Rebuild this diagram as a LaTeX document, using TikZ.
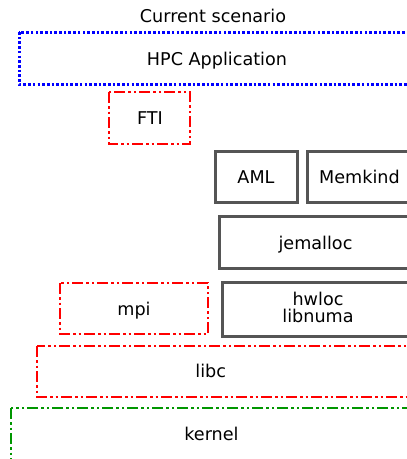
\documentclass[tikz,border=0pt]{standalone}
\usepackage{fontspec}
\setmainfont{DejaVu Sans}
\definecolor{layerred}{RGB}{255,0,0}
\definecolor{layerblue}{RGB}{0,0,255}
\definecolor{layergreen}{RGB}{0,150,0}
\definecolor{layergray}{RGB}{85,85,85}
\tikzset{
  lbl/.style={inner sep=0pt, anchor=base, font=\fontsize{17.6}{19}\selectfont},
  appbox/.style={draw=layerblue, line width=3pt, dash pattern=on 2.6pt off 2.1pt},
  optbox/.style={draw=layerred, line width=2.7pt, dash pattern=on 11pt off 3pt on 2.5pt off 3pt on 2.5pt off 3pt},
  sysbox/.style={draw=layergreen, line width=2.7pt, dash pattern=on 11pt off 3pt on 2.5pt off 3pt on 2.5pt off 3pt},
  memBox/.style={draw=layergray, line width=3pt},
}
\begin{document}
\begin{tikzpicture}[x=1pt, y=-1pt]
  \path[use as bounding box, clip] (0,0) rectangle (407,459);
  \fill[white] (0,0) rectangle (407,459);

  % layer boxes
  \draw[appbox] (19,32) rectangle (416,84);
  \draw[optbox] (109,92) rectangle (190,144);
  \draw[memBox] (215,151) rectangle (297,202);
  \draw[memBox] (307,151) rectangle (412,202);
  \draw[memBox] (219,216) rectangle (412,268);
  \draw[memBox] (222,282) rectangle (414,336);
  \draw[optbox] (60,283) rectangle (208,334);
  \draw[optbox] (37,346) rectangle (440,397);
  \draw[sysbox] (11,408) rectangle (440,480);

  % labels
  \node[lbl] (title) at (213,22) {Current scenario};
  \node[lbl] (hpc) at (217,65) {HPC Application};
  \node[lbl] (fti) at (150,124) {FTI};
  \node[lbl] (aml) at (256,183.3) {AML};
  \node[lbl] (memkind) at (359.5,183.3) {Memkind};
  \node[lbl] (jemalloc) at (315.5,249) {jemalloc};
  \node[lbl] (hwloc) at (318,305) {hwloc};
  \node[lbl] (libnuma) at (318,322.7) {libnuma};
  \node[lbl] (mpi) at (134,315) {mpi};
  \node[lbl] (libc) at (210.7,377.7) {libc};
  \node[lbl] (kernel) at (211.5,440.7) {kernel};
\end{tikzpicture}
\end{document}
